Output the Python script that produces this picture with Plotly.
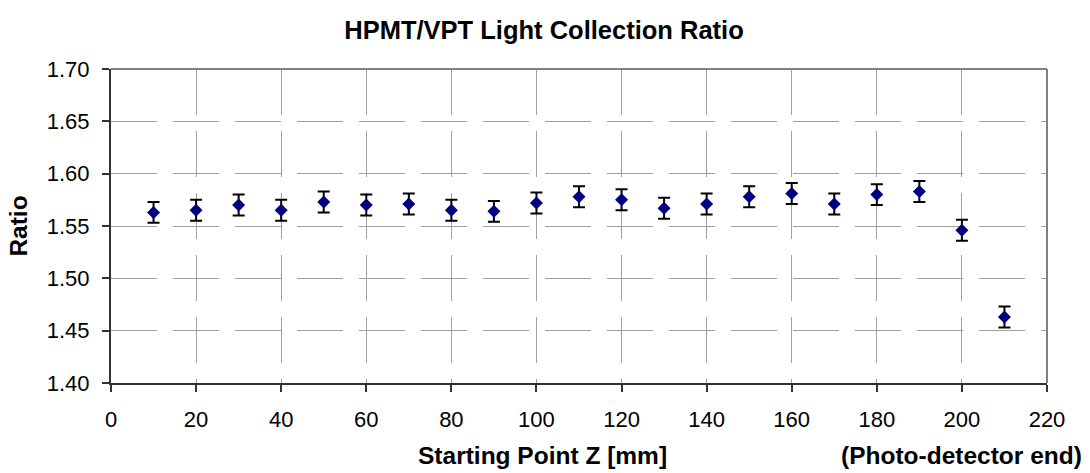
import plotly.graph_objects as go

z_mm = [10, 20, 30, 40, 50, 60, 70, 80, 90, 100, 110, 120, 130, 140, 150, 160, 170, 180, 190, 200, 210]
ratio = [1.563, 1.565, 1.570, 1.565, 1.573, 1.570, 1.571, 1.565, 1.564, 1.572, 1.578, 1.575,
         1.567, 1.571, 1.578, 1.581, 1.571, 1.580, 1.583, 1.546, 1.463]
ratio_err = [0.01] * len(z_mm)

x_ticks = list(range(0, 221, 20))
y_ticks = [1.40, 1.45, 1.50, 1.55, 1.60, 1.65, 1.70]
y_tick_text = ["%.2f" % v for v in y_ticks]

FONT = "Liberation Sans, Arial, sans-serif"

fig = go.Figure()
fig.add_trace(go.Scatter(
    x=z_mm, y=ratio, mode="markers",
    marker=dict(symbol="diamond", size=10, color="#000080", line=dict(width=0)),
    error_y=dict(type="data", array=ratio_err, visible=True, color="black", thickness=2, width=6),
    showlegend=False,
))

grid = dict(showgrid=True, gridcolor="#a0a0a0", gridwidth=1, griddash="46px,16px")

fig.update_layout(
    width=1090, height=473,
    margin=dict(l=111, r=43, t=69, b=90),
    paper_bgcolor="white", plot_bgcolor="white",
    font=dict(family=FONT, size=22, color="black"),
    title=dict(text="<b>HPMT/VPT Light Collection Ratio</b>", x=544 / 1090, xanchor="center",
               y=1 - 30 / 473, yanchor="middle", yref="container",
               font=dict(family=FONT, size=25.5, color="black")),
    xaxis=dict(range=[0, 220], tickvals=x_ticks, ticks="outside", ticklen=7, tickwidth=1.5,
               tickcolor="#333333", showline=True, linecolor="#333333", linewidth=2,
               zeroline=False, ticklabelstandoff=9, **grid),
    yaxis=dict(range=[1.40, 1.70], tickvals=y_ticks, ticktext=y_tick_text, ticks="outside",
               ticklen=7, tickwidth=1.5, tickcolor="#333333", showline=True,
               linecolor="#333333", linewidth=2, zeroline=False, ticklabelstandoff=8,
               title=dict(text="<b>Ratio</b>", font=dict(family=FONT, size=24.5), standoff=12),
               **grid),
    shapes=[
        dict(type="line", xref="paper", yref="paper", x0=0, x1=1, y0=1, y1=1,
             line=dict(color="#808080", width=2)),
        dict(type="line", xref="paper", yref="paper", x0=1, x1=1, y0=0, y1=1,
             line=dict(color="#808080", width=2)),
    ],
    annotations=[
        dict(text="<b>Starting Point Z [mm]</b>", xref="paper", yref="paper",
             x=(542 - 111) / (1090 - 111 - 43), y=-(455 - 383) / (473 - 69 - 90),
             xanchor="center", yanchor="middle", showarrow=False,
             font=dict(family=FONT, size=24.5, color="black")),
        dict(text="<b>(Photo-detector end)</b>", xref="paper", yref="paper",
             x=(1084 - 111) / (1090 - 111 - 43), y=-(455 - 383) / (473 - 69 - 90),
             xanchor="right", yanchor="middle", showarrow=False,
             font=dict(family=FONT, size=24.5, color="black")),
    ],
)

fig.write_html("out.html")
